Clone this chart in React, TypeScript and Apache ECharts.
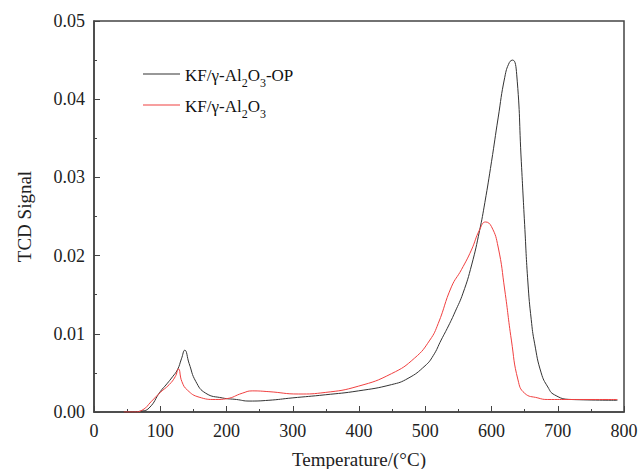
import React, { useEffect, useRef } from "react";
import * as echarts from "echarts";

const opTemps = [45, 55, 70, 83, 100, 110, 118.5, 126, 132, 137, 143.6, 153.7, 168.7, 193.7, 215, 234, 264, 299, 349, 399, 449, 474, 499.6, 512, 524, 535, 545, 557, 570, 582, 590, 600, 610, 620, 627, 632, 638, 645, 650, 655, 660, 665, 675, 685, 695, 720, 790];
const opValues = [0, 0, 0.0001, 0.0005, 0.0026, 0.0036, 0.0045, 0.0054, 0.0068, 0.0079, 0.0062, 0.0039, 0.0024, 0.0018, 0.0016, 0.0014, 0.0015, 0.0018, 0.0022, 0.0027, 0.0035, 0.0043, 0.0059, 0.0072, 0.0092, 0.011, 0.0128, 0.0152, 0.0188, 0.0232, 0.0268, 0.032, 0.0376, 0.0428, 0.0447, 0.045, 0.0432, 0.032, 0.024, 0.0165, 0.0118, 0.0088, 0.005, 0.0032, 0.0022, 0.0016, 0.0015];

const kfTemps = [45, 60, 74, 86, 100, 113.5, 122.5, 127.5, 132.6, 141, 158.6, 183.7, 200, 223.7, 238.8, 264, 309, 349, 399, 449, 484, 507, 519.5, 539.5, 554.6, 569.6, 582, 591, 600, 610, 620, 630, 640, 650, 670, 685, 720, 790];
const kfValues = [0, 0, 0.0003, 0.0013, 0.0025, 0.0035, 0.0045, 0.0055, 0.0039, 0.0028, 0.0019, 0.0016, 0.0017, 0.0024, 0.0027, 0.0026, 0.0023, 0.0025, 0.0033, 0.0049, 0.0069, 0.0092, 0.0113, 0.016, 0.0182, 0.0207, 0.0233, 0.0243, 0.0237, 0.0211, 0.0156, 0.0092, 0.0041, 0.0024, 0.0018, 0.0016, 0.0016, 0.0016];

const seriesNames = ["KF/γ-Al2O3-OP", "KF/γ-Al2O3"];
const xTitle = "Temperature/(°C)";
const yTitle = "TCD Signal";

const FONT = "Liberation Serif, Times New Roman, serif";

export default function App() {
  const ref = useRef<HTMLDivElement>(null);
  useEffect(() => {
    if (!ref.current) return;
    const chart = echarts.init(ref.current, null, { renderer: "svg" });
    const pairs = (xs: number[], ys: number[]) => xs.map((x, i) => [x, ys[i]]);
    const tick = { fontSize: 18, fontFamily: FONT, fontWeight: "normal", color: "#222" };
    const title = { fontSize: 19, fontFamily: FONT, fontWeight: "normal", color: "#222" };
    chart.setOption({
      animation: false,
      backgroundColor: "#fff",
      textStyle: { fontFamily: FONT },
      grid: {
        left: 94,
        right: 14,
        top: 21,
        bottom: 57,
        outerBoundsMode: "none",
        containLabel: false,
        show: true,
        borderColor: "#444",
        borderWidth: 1.5,
        backgroundColor: "transparent",
      },
      legend: {
        orient: "vertical",
        left: 138,
        top: 62,
        icon: "rect",
        itemWidth: 37,
        itemHeight: 1,
        itemGap: 9,
        data: seriesNames,
        formatter: (name: string) =>
          name === seriesNames[0]
            ? "{a|KF/γ-Al}{s|2}{a|O}{s|3}{a|-OP}"
            : "{a|KF/γ-Al}{s|2}{a|O}{s|3}",
        textStyle: {
          fontFamily: FONT,
          color: "#111",
          rich: {
            a: { fontSize: 17, fontFamily: FONT, color: "#111", verticalAlign: "bottom", lineHeight: 20 },
            s: { fontSize: 12, fontFamily: FONT, color: "#111", verticalAlign: "bottom", lineHeight: 20, padding: [0, 0, -5, 0] },
          },
        },
      },
      xAxis: {
        type: "value",
        min: 0,
        max: 800,
        interval: 100,
        name: xTitle,
        nameLocation: "middle",
        nameGap: 38,
        nameTextStyle: title,
        axisLine: { show: true, lineStyle: { color: "#444", width: 1.5 } },
        axisTick: { show: true, inside: true, length: 6, lineStyle: { color: "#444" } },
        minorTick: { show: true, splitNumber: 2, length: 3, lineStyle: { color: "#444" } },
        splitLine: { show: false },
        axisLabel: { ...tick, margin: 10 },
      },
      yAxis: {
        type: "value",
        min: 0,
        max: 0.05,
        interval: 0.01,
        name: yTitle,
        nameLocation: "middle",
        nameGap: 60,
        nameTextStyle: title,
        axisLine: { show: true, lineStyle: { color: "#444", width: 1.5 } },
        axisTick: { show: true, inside: true, length: 6, lineStyle: { color: "#444" } },
        minorTick: { show: true, splitNumber: 2, length: 3, lineStyle: { color: "#444" } },
        splitLine: { show: false },
        axisLabel: {
          ...tick,
          margin: 9,
          formatter: (v: number) => v.toFixed(2),
        },
      },
      series: [
        {
          name: seriesNames[0],
          type: "line",
          data: pairs(opTemps, opValues),
          smooth: 0.5,
          symbol: "none",
          lineStyle: { color: "#333", width: 1 },
          itemStyle: { color: "#333" },
        },
        {
          name: seriesNames[1],
          type: "line",
          data: pairs(kfTemps, kfValues),
          smooth: 0.5,
          symbol: "none",
          lineStyle: { color: "#f04040", width: 1 },
          itemStyle: { color: "#f04040" },
        },
      ],
    });
    return () => chart.dispose();
  }, []);
  return <div ref={ref} style={{ position: "absolute", left: 0, top: 0, width: 638, height: 469 }} />;
}
